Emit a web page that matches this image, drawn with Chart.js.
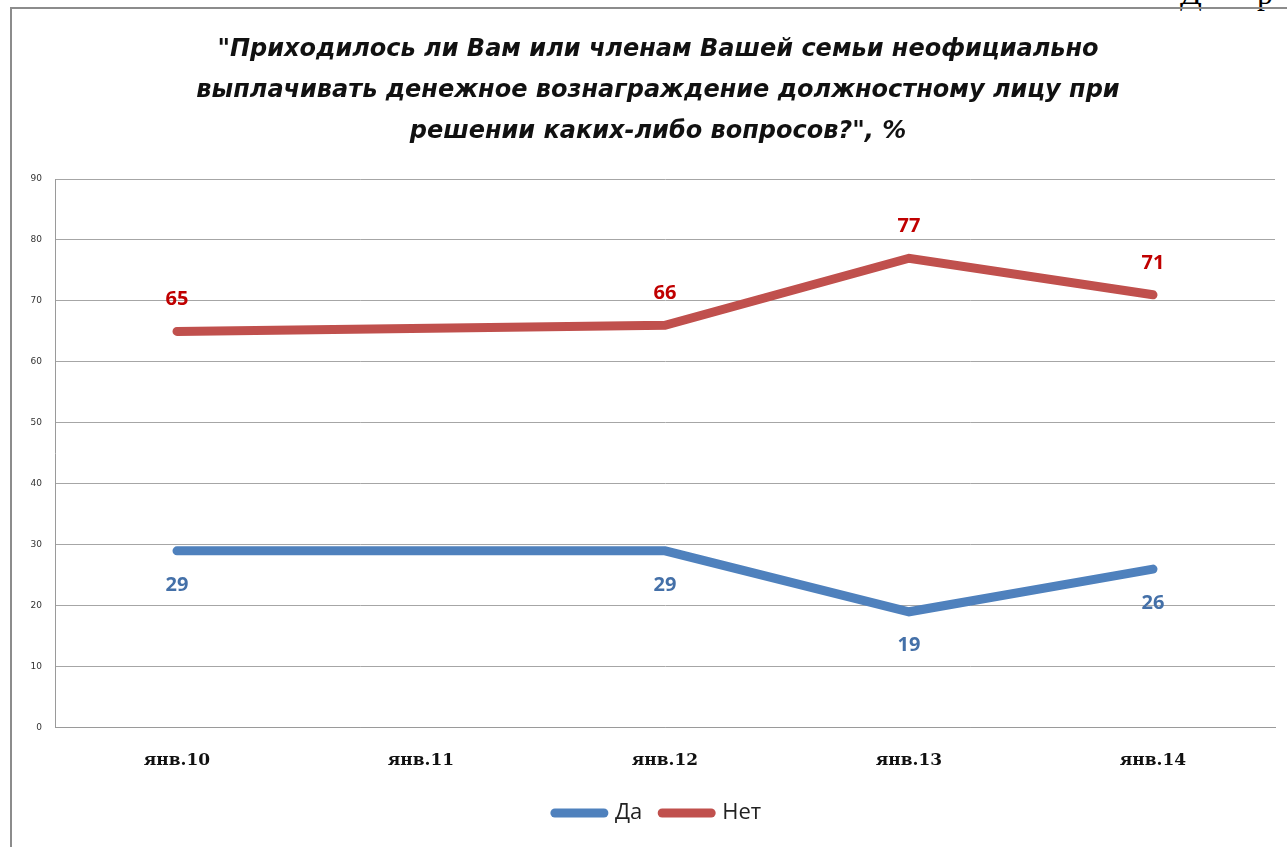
<!DOCTYPE html>
<html>
<head>
<meta charset="utf-8">
<script src="https://cdn.jsdelivr.net/npm/chart.js@4/dist/chart.umd.min.js"></script>
<style>
  body { margin: 0; background: #fff; overflow: hidden; width: 1287px; height: 847px; position: relative; }
  #frame { position: absolute; left: 10px; top: 7px; width: 1340px; height: 860px; border: 2px solid #8c8c8c; }
  #chart { position: absolute; left: 0; top: 0; }
  .doc { position: absolute; top: -25px; font: 32px "Liberation Serif", serif; color: #000; }
</style>
</head>
<body>
<span class="doc" style="left:1180px">Д</span>
<span class="doc" style="left:1257px">р</span>
<div id="frame"><canvas id="chart" width="1292" height="838"></canvas></div>
<script>
// values
const categories = ['янв.10', 'янв.11', 'янв.12', 'янв.13', 'янв.14'];
const yesValues = [29, null, 29, 19, 26];
const noValues = [65, null, 66, 77, 71];
const yMin = 0, yMax = 90, yStep = 10;

const titleLines = [
    '"Приходилось ли Вам или членам Вашей семьи неофициально',
    'выплачивать денежное вознаграждение должностному лицу при',
    'решении каких-либо вопросов?", %'
];

// value labels above / below the points
const valueLabels = {
    id: 'valueLabels',
    afterDatasetsDraw(chart) {
        const ctx = chart.ctx;
        chart.data.datasets.forEach((ds, i) => {
            const meta = chart.getDatasetMeta(i);
            ctx.save();
            ctx.font = 'bold 20px "Open Sans"';
            ctx.fillStyle = ds.labelColor;
            ctx.textAlign = 'center';
            ctx.textBaseline = 'middle';
            meta.data.forEach((pt, j) => {
                if (ds.data[j] == null) return;
                ctx.fillText(String(ds.data[j]), pt.x, pt.y + ds.labelOffset);
            });
            ctx.restore();
        });
    }
};

new Chart(document.getElementById('chart'), {
    type: 'line',
    data: {
        labels: categories,
        datasets: [
            {
                label: 'Да',
                data: yesValues,
                borderColor: '#4f81bd',
                backgroundColor: '#4f81bd',
                borderWidth: 9,
                borderCapStyle: 'round',
                borderJoinStyle: 'miter',
                pointRadius: 0,
                spanGaps: true,
                labelColor: '#4470a8',
                labelOffset: 34
            },
            {
                label: 'Нет',
                data: noValues,
                borderColor: '#c0504d',
                backgroundColor: '#c0504d',
                borderWidth: 9,
                borderCapStyle: 'round',
                borderJoinStyle: 'miter',
                pointRadius: 0,
                spanGaps: true,
                labelColor: '#c00000',
                labelOffset: -32
            }
        ]
    },
    options: {
        responsive: false,
        devicePixelRatio: 1,
        animation: false,
        layout: { padding: { left: 0, right: 0, top: 0, bottom: 13 } },
        plugins: {
            title: {
                display: true,
                text: titleLines,
                color: '#111',
                font: { family: '"DejaVu Sans"', size: 24, weight: 'bold', style: 'italic', lineHeight: 41 / 24 },
                padding: { top: 20.5, bottom: 26.5 }
            },
            legend: {
                position: 'bottom',
                labels: {
                    usePointStyle: true,
                    pointStyle: 'line',
                    pointStyleWidth: 49,
                    padding: 20,
                    color: '#222',
                    font: { family: '"Open Sans"', size: 22 },
                    generateLabels(chart) {
                        return Chart.defaults.plugins.legend.labels.generateLabels(chart).map(item => {
                            item.lineCap = 'round';
                            return item;
                        });
                    }
                }
            },
            tooltip: { enabled: false }
        },
        scales: {
            x: {
                offset: true,
                grid: { display: false, drawTicks: false },
                border: { display: true, color: '#9a9a9a', width: 1 },
                ticks: {
                    padding: 23,
                    color: '#111',
                    font: { family: '"DejaVu Serif"', size: 17, weight: 'bold' }
                },
                afterFit(scale) { scale.height -= 12; }
            },
            y: {
                min: yMin,
                max: yMax,
                grid: { color: '#a6a6a6', lineWidth: 1, drawTicks: false },
                border: { display: true, color: '#9a9a9a', width: 1 },
                ticks: {
                    stepSize: yStep,
                    padding: 13,
                    color: '#333',
                    font: { family: '"DejaVu Sans"', size: 9 }
                },
                afterFit(scale) { scale.width = 43; }
            },
            // empty right-hand band so the title stays centred on the full frame
            yRight: {
                position: 'right',
                min: yMin,
                max: yMax,
                grid: { display: false },
                border: { display: false },
                ticks: { display: false },
                afterFit(scale) { scale.width = 29; }
            }
        }
    },
    plugins: [valueLabels]
});
</script>
</body>
</html>
